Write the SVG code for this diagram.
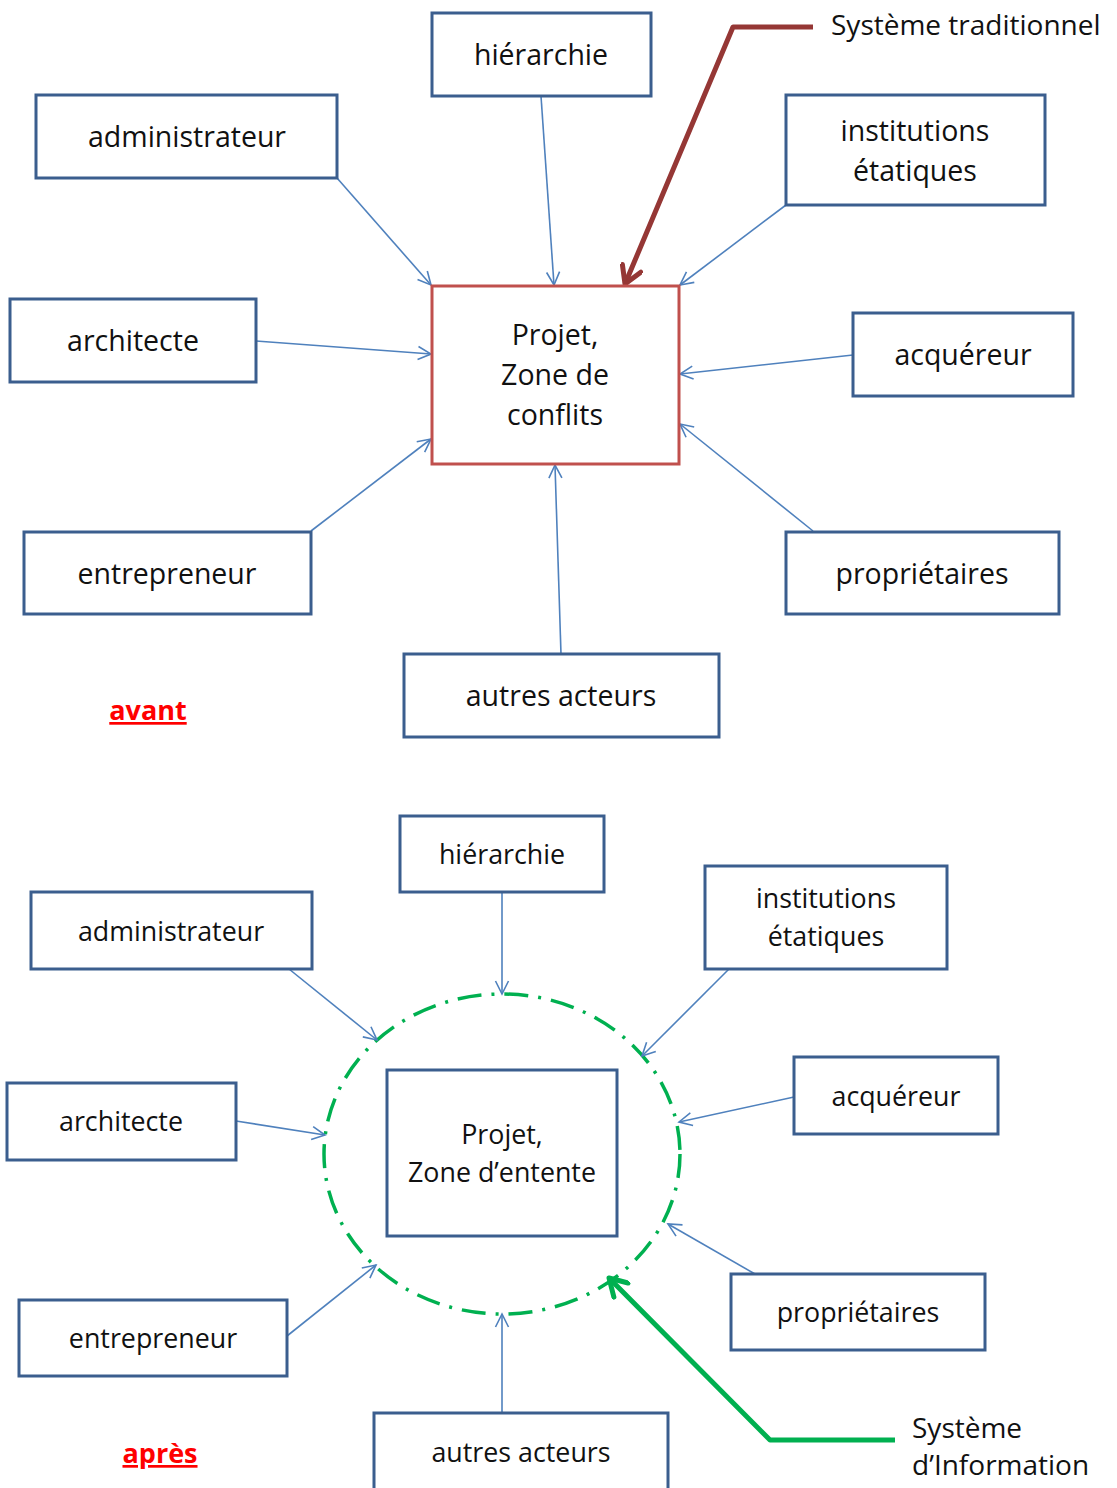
<svg xmlns="http://www.w3.org/2000/svg" width="1117" height="1488" viewBox="0 0 1117 1488">
  <defs>
    <style>
      .box { fill: #ffffff; stroke: #3b5e8e; stroke-width: 3; }
      .hub { fill: #ffffff; stroke: #c0504d; stroke-width: 3; }
      .t { font-family: "Open Sans", Lato, "Liberation Sans", sans-serif; fill: #111111; text-anchor: middle; }
      .t1 { font-size: 28.5px; }
      .t2 { font-size: 26.8px; }
      .lab { font-family: "Open Sans", Lato, "Liberation Sans", sans-serif; font-size: 28px; fill: #111111; }
      .tag { font-family: "Open Sans", Lato, "Liberation Sans", sans-serif; font-size: 27px; font-weight: bold; fill: #ff0000; text-decoration: underline; text-anchor: middle; }
      .link { stroke: #4f81bd; stroke-width: 1.6; fill: none; marker-end: url(#open); }
    </style>
    <marker id="open" viewBox="-14 -8 16 16" markerWidth="16" markerHeight="16" refX="0" refY="0" orient="auto" markerUnits="userSpaceOnUse">
      <path d="M-13,-6.5 L0,0 L-13,6.5" fill="none" stroke="#4f81bd" stroke-width="1.6"/>
    </marker>
    <marker id="redhead" viewBox="-20 -12 24 24" markerWidth="24" markerHeight="24" refX="0" refY="0" orient="auto" markerUnits="userSpaceOnUse">
      <path d="M-17,-10 L0,0 L-17,10" fill="none" stroke="#953735" stroke-width="5" stroke-linecap="round" stroke-linejoin="round"/>
    </marker>
    <marker id="greenhead" viewBox="-20 -12 24 24" markerWidth="24" markerHeight="24" refX="0" refY="0" orient="auto" markerUnits="userSpaceOnUse">
      <path d="M-17,-10 L0,0 L-17,10" fill="none" stroke="#00b050" stroke-width="5" stroke-linecap="round" stroke-linejoin="round"/>
    </marker>
  </defs>

  <!-- ===== Top: traditional system ===== -->
  <g id="connectors-top">
    <line class="link" x1="337" y1="178" x2="431" y2="285"/>
    <line class="link" x1="541" y1="96" x2="554" y2="285"/>
    <line class="link" x1="786" y1="205" x2="680" y2="285"/>
    <line class="link" x1="256" y1="341" x2="431" y2="354"/>
    <line class="link" x1="853" y1="355" x2="680" y2="374"/>
    <line class="link" x1="311" y1="531" x2="431" y2="439"/>
    <line class="link" x1="813" y1="531" x2="680" y2="424"/>
    <line class="link" x1="561" y1="654" x2="555" y2="465"/>
    <polyline points="813,27 733,27 625,284" fill="none" stroke="#953735" stroke-width="5" stroke-linejoin="round" marker-end="url(#redhead)"/>
  </g>

  <g id="top-hub">
    <rect class="hub" x="432" y="286" width="247" height="178"/>
    <text class="t t1" x="555" y="345">Projet,</text>
    <text class="t t1" x="555" y="385">Zone de</text>
    <text class="t t1" x="555" y="425">conflits</text>
  </g>
  <g id="top-hierarchie">
    <rect class="box" x="432" y="13" width="219" height="83"/>
    <text class="t t1" x="541" y="65">hiérarchie</text>
  </g>
  <g id="top-administrateur">
    <rect class="box" x="36" y="95" width="301" height="83"/>
    <text class="t t1" x="187" y="147">administrateur</text>
  </g>
  <g id="top-institutions">
    <rect class="box" x="786" y="95" width="259" height="110"/>
    <text class="t t1" x="915" y="141">institutions</text>
    <text class="t t1" x="915" y="181">étatiques</text>
  </g>
  <g id="top-architecte">
    <rect class="box" x="10" y="299" width="246" height="83"/>
    <text class="t t1" x="133" y="351">architecte</text>
  </g>
  <g id="top-acquereur">
    <rect class="box" x="853" y="313" width="220" height="83"/>
    <text class="t t1" x="963" y="365">acquéreur</text>
  </g>
  <g id="top-entrepreneur">
    <rect class="box" x="24" y="532" width="287" height="82"/>
    <text class="t t1" x="167" y="584">entrepreneur</text>
  </g>
  <g id="top-proprietaires">
    <rect class="box" x="786" y="532" width="273" height="82"/>
    <text class="t t1" x="922" y="584">propriétaires</text>
  </g>
  <g id="top-autres">
    <rect class="box" x="404" y="654" width="315" height="83"/>
    <text class="t t1" x="561" y="706">autres acteurs</text>
  </g>
  <text class="lab" x="831" y="35">Système traditionnel</text>
  <text class="tag" x="148" y="720">avant</text>

  <!-- ===== Bottom: information system ===== -->
  <ellipse id="shared-zone" cx="502" cy="1154" rx="178" ry="160" fill="none" stroke="#00b050" stroke-width="3.5" stroke-dasharray="24 10 3 10"/>

  <g id="connectors-bottom">
    <line class="link" x1="289" y1="969" x2="377" y2="1040"/>
    <line class="link" x1="502" y1="892" x2="502" y2="994"/>
    <line class="link" x1="729" y1="969" x2="642" y2="1056"/>
    <line class="link" x1="236" y1="1121" x2="325" y2="1135"/>
    <line class="link" x1="794" y1="1097" x2="679" y2="1122"/>
    <line class="link" x1="287" y1="1336" x2="376" y2="1265"/>
    <line class="link" x1="755" y1="1274" x2="668" y2="1224"/>
    <line class="link" x1="502" y1="1413" x2="502" y2="1314"/>
    <polyline points="895,1440 770,1440 609,1278" fill="none" stroke="#00b050" stroke-width="5" stroke-linejoin="round" marker-end="url(#greenhead)"/>
  </g>

  <g id="bottom-hub">
    <rect class="box" x="387" y="1070" width="230" height="166"/>
    <text class="t t2" x="502" y="1144">Projet,</text>
    <text class="t t2" x="502" y="1182">Zone d’entente</text>
  </g>
  <g id="bottom-hierarchie">
    <rect class="box" x="400" y="816" width="204" height="76"/>
    <text class="t t2" x="502" y="864">hiérarchie</text>
  </g>
  <g id="bottom-administrateur">
    <rect class="box" x="31" y="892" width="281" height="77"/>
    <text class="t t2" x="171" y="941">administrateur</text>
  </g>
  <g id="bottom-institutions">
    <rect class="box" x="705" y="866" width="242" height="103"/>
    <text class="t t2" x="826" y="908">institutions</text>
    <text class="t t2" x="826" y="946">étatiques</text>
  </g>
  <g id="bottom-architecte">
    <rect class="box" x="7" y="1083" width="229" height="77"/>
    <text class="t t2" x="121" y="1131">architecte</text>
  </g>
  <g id="bottom-acquereur">
    <rect class="box" x="794" y="1057" width="204" height="77"/>
    <text class="t t2" x="896" y="1106">acquéreur</text>
  </g>
  <g id="bottom-entrepreneur">
    <rect class="box" x="19" y="1300" width="268" height="76"/>
    <text class="t t2" x="153" y="1348">entrepreneur</text>
  </g>
  <g id="bottom-proprietaires">
    <rect class="box" x="731" y="1274" width="254" height="76"/>
    <text class="t t2" x="858" y="1322">propriétaires</text>
  </g>
  <g id="bottom-autres">
    <rect class="box" x="374" y="1413" width="294" height="90"/>
    <text class="t t2" x="521" y="1462">autres acteurs</text>
  </g>
  <text class="lab" x="912" y="1438" font-size="26.5">Système</text>
  <text class="lab" x="912" y="1475" font-size="26.5">d’Information</text>
  <text class="tag" x="160" y="1463">après</text>
</svg>
